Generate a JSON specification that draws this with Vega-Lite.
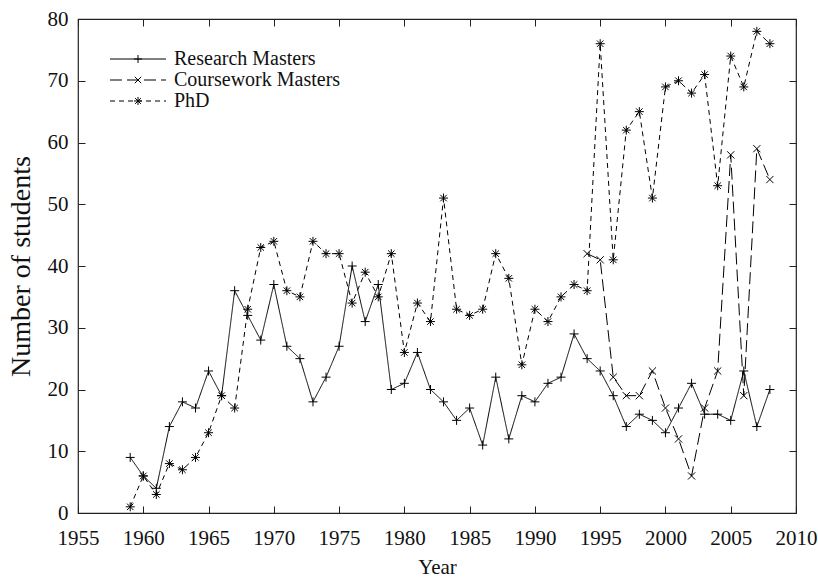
{
  "$schema": "https://vega.github.io/schema/vega-lite/v6.json",
  "width": 718,
  "height": 494,
  "autosize": {"type": "none"},
  "padding": {"left": 78, "top": 19, "right": 22, "bottom": 72},
  "background": "white",
  "config": {
    "view": {"stroke": "#222", "strokeWidth": 1.2},
    "font": "Liberation Serif",
    "axis": {
      "grid": false,
      "domain": false,
      "tickColor": "#222",
      "tickSize": -7,
      "tickWidth": 1,
      "labelFont": "Liberation Serif",
      "titleFont": "Liberation Serif",
      "labelColor": "#111",
      "titleColor": "#111",
      "titleFontWeight": "normal",
      "labelFontSize": 21,
      "titleFontSize": 21,
      "labelFlush": false,
      "labelOverlap": false
    },
    "legend": {
      "orient": "none",
      "padding": 0,
      "symbolSize": 64,
      "labelFont": "Liberation Serif",
      "labelFontSize": 20,
      "labelLimit": 400,
      "labelOffset": 26,
      "rowPadding": 1,
      "symbolStrokeColor": "black",
      "symbolStrokeWidth": 1,
      "symbolFillColor": "transparent"
    }
  },
  "data": {
    "values": [
      {"Year": 1959, "Series": "Research Masters", "Students": 9},
      {"Year": 1960, "Series": "Research Masters", "Students": 6},
      {"Year": 1961, "Series": "Research Masters", "Students": 4},
      {"Year": 1962, "Series": "Research Masters", "Students": 14},
      {"Year": 1963, "Series": "Research Masters", "Students": 18},
      {"Year": 1964, "Series": "Research Masters", "Students": 17},
      {"Year": 1965, "Series": "Research Masters", "Students": 23},
      {"Year": 1966, "Series": "Research Masters", "Students": 19},
      {"Year": 1967, "Series": "Research Masters", "Students": 36},
      {"Year": 1968, "Series": "Research Masters", "Students": 32},
      {"Year": 1969, "Series": "Research Masters", "Students": 28},
      {"Year": 1970, "Series": "Research Masters", "Students": 37},
      {"Year": 1971, "Series": "Research Masters", "Students": 27},
      {"Year": 1972, "Series": "Research Masters", "Students": 25},
      {"Year": 1973, "Series": "Research Masters", "Students": 18},
      {"Year": 1974, "Series": "Research Masters", "Students": 22},
      {"Year": 1975, "Series": "Research Masters", "Students": 27},
      {"Year": 1976, "Series": "Research Masters", "Students": 40},
      {"Year": 1977, "Series": "Research Masters", "Students": 31},
      {"Year": 1978, "Series": "Research Masters", "Students": 37},
      {"Year": 1979, "Series": "Research Masters", "Students": 20},
      {"Year": 1980, "Series": "Research Masters", "Students": 21},
      {"Year": 1981, "Series": "Research Masters", "Students": 26},
      {"Year": 1982, "Series": "Research Masters", "Students": 20},
      {"Year": 1983, "Series": "Research Masters", "Students": 18},
      {"Year": 1984, "Series": "Research Masters", "Students": 15},
      {"Year": 1985, "Series": "Research Masters", "Students": 17},
      {"Year": 1986, "Series": "Research Masters", "Students": 11},
      {"Year": 1987, "Series": "Research Masters", "Students": 22},
      {"Year": 1988, "Series": "Research Masters", "Students": 12},
      {"Year": 1989, "Series": "Research Masters", "Students": 19},
      {"Year": 1990, "Series": "Research Masters", "Students": 18},
      {"Year": 1991, "Series": "Research Masters", "Students": 21},
      {"Year": 1992, "Series": "Research Masters", "Students": 22},
      {"Year": 1993, "Series": "Research Masters", "Students": 29},
      {"Year": 1994, "Series": "Research Masters", "Students": 25},
      {"Year": 1995, "Series": "Research Masters", "Students": 23},
      {"Year": 1996, "Series": "Research Masters", "Students": 19},
      {"Year": 1997, "Series": "Research Masters", "Students": 14},
      {"Year": 1998, "Series": "Research Masters", "Students": 16},
      {"Year": 1999, "Series": "Research Masters", "Students": 15},
      {"Year": 2000, "Series": "Research Masters", "Students": 13},
      {"Year": 2001, "Series": "Research Masters", "Students": 17},
      {"Year": 2002, "Series": "Research Masters", "Students": 21},
      {"Year": 2003, "Series": "Research Masters", "Students": 16},
      {"Year": 2004, "Series": "Research Masters", "Students": 16},
      {"Year": 2005, "Series": "Research Masters", "Students": 15},
      {"Year": 2006, "Series": "Research Masters", "Students": 23},
      {"Year": 2007, "Series": "Research Masters", "Students": 14},
      {"Year": 2008, "Series": "Research Masters", "Students": 20},
      {"Year": 1994, "Series": "Coursework Masters", "Students": 42},
      {"Year": 1995, "Series": "Coursework Masters", "Students": 41},
      {"Year": 1996, "Series": "Coursework Masters", "Students": 22},
      {"Year": 1997, "Series": "Coursework Masters", "Students": 19},
      {"Year": 1998, "Series": "Coursework Masters", "Students": 19},
      {"Year": 1999, "Series": "Coursework Masters", "Students": 23},
      {"Year": 2000, "Series": "Coursework Masters", "Students": 17},
      {"Year": 2001, "Series": "Coursework Masters", "Students": 12},
      {"Year": 2002, "Series": "Coursework Masters", "Students": 6},
      {"Year": 2003, "Series": "Coursework Masters", "Students": 17},
      {"Year": 2004, "Series": "Coursework Masters", "Students": 23},
      {"Year": 2005, "Series": "Coursework Masters", "Students": 58},
      {"Year": 2006, "Series": "Coursework Masters", "Students": 19},
      {"Year": 2007, "Series": "Coursework Masters", "Students": 59},
      {"Year": 2008, "Series": "Coursework Masters", "Students": 54},
      {"Year": 1959, "Series": "PhD", "Students": 1},
      {"Year": 1960, "Series": "PhD", "Students": 6},
      {"Year": 1961, "Series": "PhD", "Students": 3},
      {"Year": 1962, "Series": "PhD", "Students": 8},
      {"Year": 1963, "Series": "PhD", "Students": 7},
      {"Year": 1964, "Series": "PhD", "Students": 9},
      {"Year": 1965, "Series": "PhD", "Students": 13},
      {"Year": 1966, "Series": "PhD", "Students": 19},
      {"Year": 1967, "Series": "PhD", "Students": 17},
      {"Year": 1968, "Series": "PhD", "Students": 33},
      {"Year": 1969, "Series": "PhD", "Students": 43},
      {"Year": 1970, "Series": "PhD", "Students": 44},
      {"Year": 1971, "Series": "PhD", "Students": 36},
      {"Year": 1972, "Series": "PhD", "Students": 35},
      {"Year": 1973, "Series": "PhD", "Students": 44},
      {"Year": 1974, "Series": "PhD", "Students": 42},
      {"Year": 1975, "Series": "PhD", "Students": 42},
      {"Year": 1976, "Series": "PhD", "Students": 34},
      {"Year": 1977, "Series": "PhD", "Students": 39},
      {"Year": 1978, "Series": "PhD", "Students": 35},
      {"Year": 1979, "Series": "PhD", "Students": 42},
      {"Year": 1980, "Series": "PhD", "Students": 26},
      {"Year": 1981, "Series": "PhD", "Students": 34},
      {"Year": 1982, "Series": "PhD", "Students": 31},
      {"Year": 1983, "Series": "PhD", "Students": 51},
      {"Year": 1984, "Series": "PhD", "Students": 33},
      {"Year": 1985, "Series": "PhD", "Students": 32},
      {"Year": 1986, "Series": "PhD", "Students": 33},
      {"Year": 1987, "Series": "PhD", "Students": 42},
      {"Year": 1988, "Series": "PhD", "Students": 38},
      {"Year": 1989, "Series": "PhD", "Students": 24},
      {"Year": 1990, "Series": "PhD", "Students": 33},
      {"Year": 1991, "Series": "PhD", "Students": 31},
      {"Year": 1992, "Series": "PhD", "Students": 35},
      {"Year": 1993, "Series": "PhD", "Students": 37},
      {"Year": 1994, "Series": "PhD", "Students": 36},
      {"Year": 1995, "Series": "PhD", "Students": 76},
      {"Year": 1996, "Series": "PhD", "Students": 41},
      {"Year": 1997, "Series": "PhD", "Students": 62},
      {"Year": 1998, "Series": "PhD", "Students": 65},
      {"Year": 1999, "Series": "PhD", "Students": 51},
      {"Year": 2000, "Series": "PhD", "Students": 69},
      {"Year": 2001, "Series": "PhD", "Students": 70},
      {"Year": 2002, "Series": "PhD", "Students": 68},
      {"Year": 2003, "Series": "PhD", "Students": 71},
      {"Year": 2004, "Series": "PhD", "Students": 53},
      {"Year": 2005, "Series": "PhD", "Students": 74},
      {"Year": 2006, "Series": "PhD", "Students": 69},
      {"Year": 2007, "Series": "PhD", "Students": 78},
      {"Year": 2008, "Series": "PhD", "Students": 76}
    ]
  },
  "layer": [
    {
      "mark": {"type": "line", "color": "black", "strokeWidth": 1},
      "encoding": {
        "x": {
          "field": "Year",
          "type": "quantitative",
          "scale": {"domain": [1955, 2010], "nice": false, "zero": false},
          "axis": {
            "orient": "bottom",
            "values": [1955, 1960, 1965, 1970, 1975, 1980, 1985, 1990, 1995, 2000, 2005, 2010],
            "format": "d",
            "title": "Year",
            "labelPadding": 21,
            "titlePadding": 8
          }
        },
        "y": {
          "field": "Students",
          "type": "quantitative",
          "scale": {"domain": [0, 80], "nice": false},
          "axis": {
            "orient": "left",
            "values": [0, 10, 20, 30, 40, 50, 60, 70, 80],
            "title": "Number of students",
            "labelPadding": 17,
            "titlePadding": 12,
            "titleFontSize": 28
          }
        },
        "strokeDash": {
          "field": "Series",
          "type": "nominal",
          "scale": {
            "domain": ["Research Masters", "Coursework Masters", "PhD"],
            "range": [[1, 0], [12, 5], [5, 4]]
          },
          "legend": {
            "title": null,
            "legendX": 50,
            "legendY": 30,
            "symbolType": "M-7,0L7,0",
            "labelColor": "#111"
          }
        }
      }
    },
    {
      "mark": {"type": "point", "filled": false, "color": "black", "strokeWidth": 1, "size": 81, "opacity": 1},
      "encoding": {
        "x": {
          "field": "Year",
          "type": "quantitative",
          "axis": {
            "orient": "top",
            "values": [1955, 1960, 1965, 1970, 1975, 1980, 1985, 1990, 1995, 2000, 2005, 2010],
            "labels": false,
            "title": null
          }
        },
        "y": {
          "field": "Students",
          "type": "quantitative",
          "axis": {
            "orient": "right",
            "values": [0, 10, 20, 30, 40, 50, 60, 70, 80],
            "labels": false,
            "title": null
          }
        },
        "shape": {
          "field": "Series",
          "type": "nominal",
          "sort": ["Research Masters", "Coursework Masters", "PhD"],
          "scale": {
            "range": [
              "M-1,0L1,0M0,-1L0,1",
              "M-0.8,-0.8L0.8,0.8M-0.8,0.8L0.8,-0.8",
              "M-1,0L1,0M0,-1L0,1M-0.72,-0.72L0.72,0.72M-0.72,0.72L0.72,-0.72"
            ]
          },
          "legend": {
            "title": null,
            "legendX": 50,
            "legendY": 30,
            "labelColor": "transparent",
            "symbolStrokeColor": "black",
            "symbolFillColor": "white"
          }
        }
      }
    }
  ]
}
